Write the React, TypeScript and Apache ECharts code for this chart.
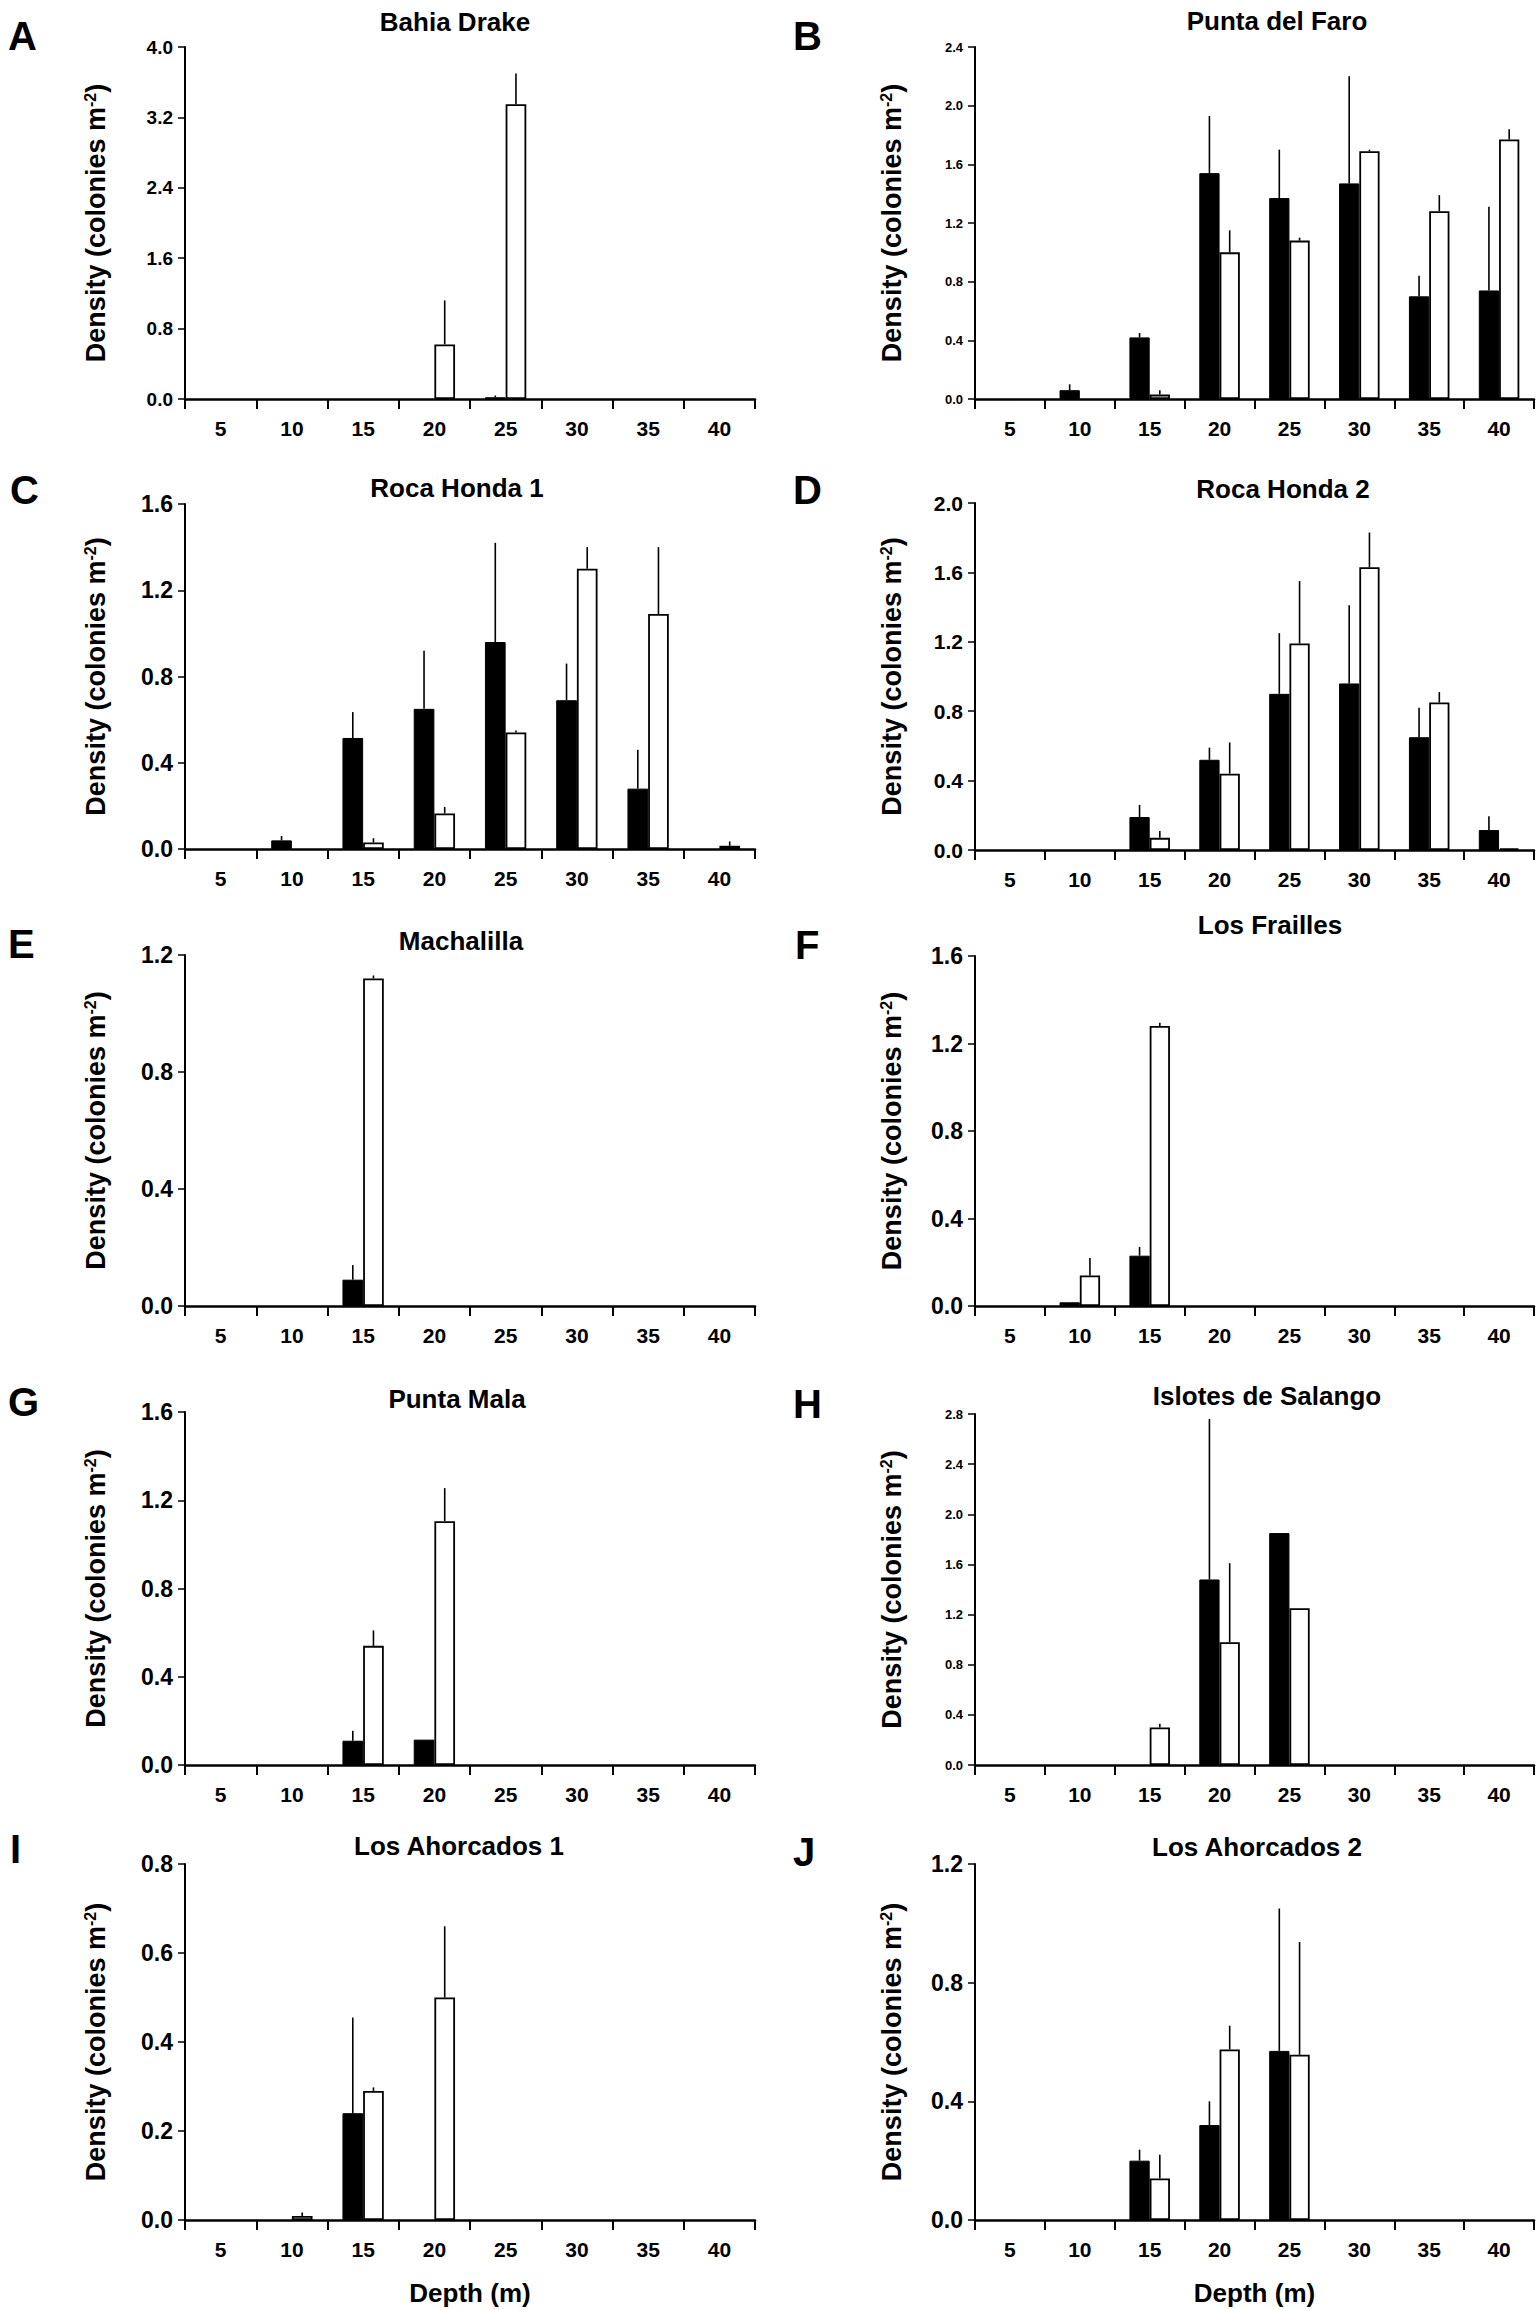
import React, { useEffect, useRef } from "react";
import * as echarts from "echarts";

// ---------- data ----------
const depths = ["5", "10", "15", "20", "25", "30", "35", "40"];

// A  Bahia Drake
const drakeSolid = [0, 0, 0, 0, 0.02, 0, 0, 0];
const drakeSolidErr = [0, 0, 0, 0, 0.02, 0, 0, 0];
const drakeOpen = [0, 0, 0, 0.62, 3.35, 0, 0, 0];
const drakeOpenErr = [0, 0, 0, 0.5, 0.35, 0, 0, 0];

// B  Punta del Faro
const faroSolid = [0, 0.06, 0.42, 1.54, 1.37, 1.47, 0.7, 0.74];
const faroSolidErr = [0, 0.04, 0.03, 0.39, 0.33, 0.73, 0.14, 0.57];
const faroOpen = [0, 0, 0.03, 1.0, 1.08, 1.69, 1.28, 1.77];
const faroOpenErr = [0, 0, 0.03, 0.15, 0.02, 0.01, 0.11, 0.07];

// C  Roca Honda 1
const honda1Solid = [0, 0.04, 0.515, 0.65, 0.96, 0.69, 0.28, 0];
const honda1SolidErr = [0, 0.02, 0.12, 0.27, 0.46, 0.17, 0.18, 0];
const honda1Open = [0, 0, 0.03, 0.165, 0.54, 1.3, 1.09, 0.015];
const honda1OpenErr = [0, 0, 0.02, 0.03, 0.01, 0.1, 0.31, 0.02];

// D  Roca Honda 2
const honda2Solid = [0, 0, 0.19, 0.52, 0.9, 0.96, 0.65, 0.115];
const honda2SolidErr = [0, 0, 0.07, 0.07, 0.35, 0.45, 0.17, 0.08];
const honda2Open = [0, 0, 0.07, 0.44, 1.19, 1.63, 0.85, 0.01];
const honda2OpenErr = [0, 0, 0.04, 0.18, 0.36, 0.2, 0.06, 0];

// E  Machalilla
const machalillaSolid = [0, 0, 0.09, 0, 0, 0, 0, 0];
const machalillaSolidErr = [0, 0, 0.05, 0, 0, 0, 0, 0];
const machalillaOpen = [0, 0, 1.12, 0, 0, 0, 0, 0];
const machalillaOpenErr = [0, 0, 0.01, 0, 0, 0, 0, 0];

// F  Los Frailles
const fraillesSolid = [0, 0.017, 0.23, 0, 0, 0, 0, 0];
const fraillesSolidErr = [0, 0, 0.04, 0, 0, 0, 0, 0];
const fraillesOpen = [0, 0.14, 1.28, 0, 0, 0, 0, 0];
const fraillesOpenErr = [0, 0.08, 0.015, 0, 0, 0, 0, 0];

// G  Punta Mala
const malaSolid = [0, 0, 0.11, 0.115, 0, 0, 0, 0];
const malaSolidErr = [0, 0, 0.045, 0, 0, 0, 0, 0];
const malaOpen = [0, 0, 0.54, 1.105, 0, 0, 0, 0];
const malaOpenErr = [0, 0, 0.07, 0.15, 0, 0, 0, 0];

// H  Islotes de Salango
const salangoSolid = [0, 0, 0, 1.48, 1.85, 0, 0, 0];
const salangoSolidErr = [0, 0, 0, 1.28, 0, 0, 0, 0];
const salangoOpen = [0, 0, 0.3, 0.98, 1.25, 0, 0, 0];
const salangoOpenErr = [0, 0, 0.03, 0.63, 0, 0, 0, 0];

// I  Los Ahorcados 1
const ahorcados1Solid = [0, 0, 0.24, 0, 0, 0, 0, 0];
const ahorcados1SolidErr = [0, 0, 0.215, 0, 0, 0, 0, 0];
const ahorcados1Open = [0, 0.009, 0.29, 0.5, 0, 0, 0, 0];
const ahorcados1OpenErr = [0, 0.008, 0.008, 0.16, 0, 0, 0, 0];

// J  Los Ahorcados 2
const ahorcados2Solid = [0, 0, 0.2, 0.32, 0.57, 0, 0, 0];
const ahorcados2SolidErr = [0, 0, 0.037, 0.08, 0.48, 0, 0, 0];
const ahorcados2Open = [0, 0, 0.14, 0.575, 0.557, 0, 0, 0];
const ahorcados2OpenErr = [0, 0, 0.08, 0.08, 0.38, 0, 0, 0];

// y-axis ranges per panel
const yMax = [4.0, 2.4, 1.6, 2.0, 1.2, 1.6, 1.6, 2.8, 0.8, 1.2];
const yStep = [0.8, 0.4, 0.4, 0.4, 0.4, 0.4, 0.4, 0.4, 0.2, 0.4];
const titles = [
  "Bahia Drake",
  "Punta del Faro",
  "Roca Honda 1",
  "Roca Honda 2",
  "Machalilla",
  "Los Frailles",
  "Punta Mala",
  "Islotes de Salango",
  "Los Ahorcados 1",
  "Los Ahorcados 2",
];
const letters = ["A", "B", "C", "D", "E", "F", "G", "H", "I", "J"];
const xAxisTitle = "Depth (m)";
const yAxisTitle = "Density (colonies m{sup|-2})";

// ---------- layout / style ----------
const FONT = "'Liberation Sans', Arial, Helvetica, sans-serif";
const BAR_FRAC = 0.29;
const colLeft = [185, 975];
const colWidth = [570, 559];

const panelData = [
  [drakeSolid, drakeSolidErr, drakeOpen, drakeOpenErr],
  [faroSolid, faroSolidErr, faroOpen, faroOpenErr],
  [honda1Solid, honda1SolidErr, honda1Open, honda1OpenErr],
  [honda2Solid, honda2SolidErr, honda2Open, honda2OpenErr],
  [machalillaSolid, machalillaSolidErr, machalillaOpen, machalillaOpenErr],
  [fraillesSolid, fraillesSolidErr, fraillesOpen, fraillesOpenErr],
  [malaSolid, malaSolidErr, malaOpen, malaOpenErr],
  [salangoSolid, salangoSolidErr, salangoOpen, salangoOpenErr],
  [ahorcados1Solid, ahorcados1SolidErr, ahorcados1Open, ahorcados1OpenErr],
  [ahorcados2Solid, ahorcados2SolidErr, ahorcados2Open, ahorcados2OpenErr],
];

const layout = [
  { top: 47, height: 352, labelSize: 19, title: [455, 22], letter: [8, 36] },
  { top: 47, height: 352, labelSize: 13, title: [1277, 21], letter: [793, 36] },
  { top: 504, height: 345, labelSize: 23, title: [457, 488], letter: [10, 490] },
  { top: 503, height: 347, labelSize: 21, title: [1283, 489], letter: [793, 490] },
  { top: 955, height: 351, labelSize: 23, title: [461, 941], letter: [8, 944] },
  { top: 956, height: 350, labelSize: 23, title: [1270, 925], letter: [795, 945] },
  { top: 1412, height: 353, labelSize: 23, title: [457, 1399], letter: [8, 1402] },
  { top: 1414, height: 351, labelSize: 13, title: [1267, 1396], letter: [793, 1404] },
  { top: 1864, height: 356, labelSize: 23, title: [459, 1846], letter: [10, 1849] },
  { top: 1864, height: 356, labelSize: 23, title: [1257, 1847], letter: [793, 1852] },
];

function buildOption() {
  const grid: any[] = [];
  const xAxis: any[] = [];
  const yAxis: any[] = [];
  const series: any[] = [];
  const graphic: any[] = [];

  panelData.forEach((pd, i) => {
    const col = i % 2;
    const L = layout[i];
    const [solid, solidErr, open, openErr] = pd;
    const lastRow = i >= 8;

    grid.push({ left: colLeft[col], top: L.top, width: colWidth[col], height: L.height });

    xAxis.push({
      type: "category",
      gridIndex: i,
      data: depths,
      axisLine: { show: true, lineStyle: { color: "#000", width: 2.5 } },
      axisTick: { show: true, length: 10, lineStyle: { color: "#000", width: 2 } },
      axisLabel: { color: "#000", fontSize: 21, fontWeight: "bold", fontFamily: FONT, margin: 19 },
      splitLine: { show: false },
      name: lastRow ? xAxisTitle : "",
      nameLocation: "middle",
      nameGap: 60,
      nameTextStyle: { color: "#000", fontSize: 26, fontWeight: "bold", fontFamily: FONT },
    });

    yAxis.push({
      type: "value",
      gridIndex: i,
      min: 0,
      max: yMax[i],
      interval: yStep[i],
      splitLine: { show: false },
      axisLine: { show: true, lineStyle: { color: "#000", width: 2 } },
      axisTick: { show: true, length: 7, lineStyle: { color: "#000", width: 1.5 } },
      axisLabel: {
        color: "#000",
        fontSize: L.labelSize,
        fontWeight: "bold",
        fontFamily: FONT,
        margin: 12,
        formatter: (v: number) => v.toFixed(1),
      },
      name: yAxisTitle,
      nameLocation: "middle",
      nameRotate: 90,
      nameGap: col === 0 ? 76 : 70,
      nameTextStyle: {
        color: "#000",
        fontSize: 27,
        fontWeight: "bold",
        fontFamily: FONT,
        rich: {
          sup: { fontSize: 16, fontWeight: "bold", fontFamily: FONT, color: "#000", verticalAlign: "top" },
        },
      },
    });

    const nz = (v: number) => (v === 0 ? null : v);

    series.push({
      type: "bar",
      name: "solid",
      xAxisIndex: i,
      yAxisIndex: i,
      data: solid.map(nz),
      barWidth: `${BAR_FRAC * 100}%`,
      barGap: "0%",
      itemStyle: { color: "#000", borderColor: "#000", borderWidth: 1 },
      silent: true,
    });
    series.push({
      type: "bar",
      name: "open",
      xAxisIndex: i,
      yAxisIndex: i,
      data: open.map(nz),
      barWidth: `${BAR_FRAC * 100}%`,
      barGap: "0%",
      itemStyle: { color: "#fff", borderColor: "#000", borderWidth: 1.8 },
      silent: true,
    });

    const errData: number[][] = [];
    solid.forEach((v, j) => {
      if (solidErr[j] > 0) errData.push([j, v, solidErr[j], 0]);
    });
    open.forEach((v, j) => {
      if (openErr[j] > 0) errData.push([j, v, openErr[j], 1]);
    });

    series.push({
      type: "custom",
      name: "error",
      xAxisIndex: i,
      yAxisIndex: i,
      coordinateSystem: "cartesian2d",
      encode: { x: 0, y: 1 },
      z: 5,
      silent: true,
      data: errData,
      renderItem: (params: any, api: any) => {
        const ci = api.value(0);
        const v = api.value(1);
        const e = api.value(2);
        const side = api.value(3);
        const band = api.size([1, 0])[0];
        const off = (side === 0 ? -1 : 1) * (band * BAR_FRAC) / 2;
        const p0 = api.coord([ci, v]);
        const p1 = api.coord([ci, v + e]);
        return {
          type: "line",
          shape: { x1: p0[0] + off, y1: p0[1], x2: p1[0] + off, y2: p1[1] },
          style: { stroke: "#000", lineWidth: 1.6 },
        };
      },
    });

    graphic.push({
      type: "text",
      x: L.title[0],
      y: L.title[1],
      style: {
        text: titles[i],
        fontSize: 26,
        fontWeight: "bold",
        fontFamily: FONT,
        fill: "#000",
        align: "center",
        verticalAlign: "middle",
      },
    });
    graphic.push({
      type: "text",
      x: L.letter[0],
      y: L.letter[1],
      style: {
        text: letters[i],
        fontSize: 40,
        fontWeight: "bold",
        fontFamily: FONT,
        fill: "#000",
        align: "left",
        verticalAlign: "middle",
      },
    });
  });

  return {
    animation: false,
    backgroundColor: "#fff",
    textStyle: { fontFamily: FONT },
    grid,
    xAxis,
    yAxis,
    series,
    graphic,
  };
}

export default function App() {
  const ref = useRef<HTMLDivElement>(null);
  useEffect(() => {
    if (!ref.current) return;
    const chart = echarts.init(ref.current, undefined, { renderer: "svg" });
    chart.setOption(buildOption() as any);
    return () => chart.dispose();
  }, []);
  return (
    <div
      ref={ref}
      style={{ position: "absolute", left: 0, top: 0, width: 1540, height: 2310, background: "#fff" }}
    />
  );
}
